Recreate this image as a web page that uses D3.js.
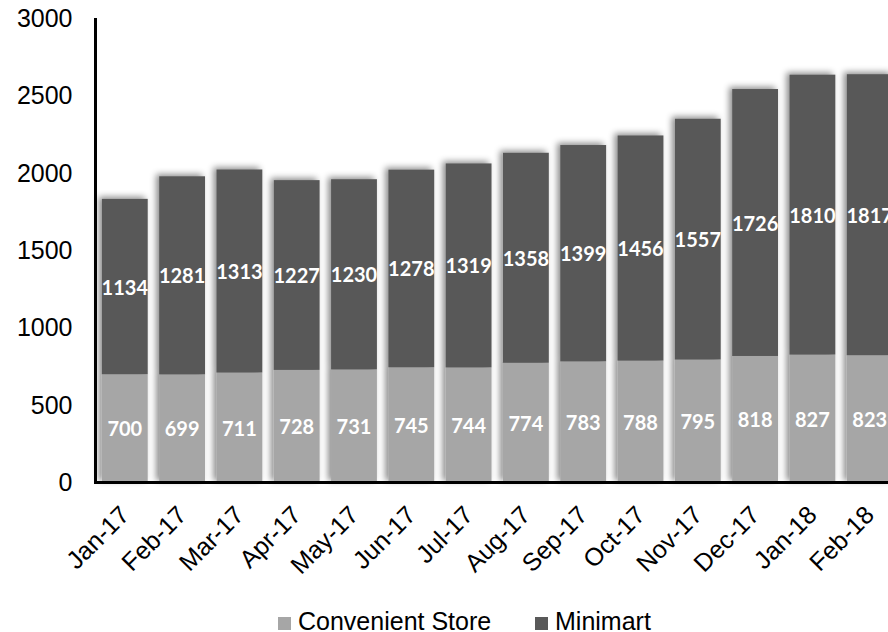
<!DOCTYPE html>
<html>
<head>
<meta charset="utf-8">
<script src="https://cdn.jsdelivr.net/npm/d3@7"></script>
<style>
  html, body { margin: 0; padding: 0; background: #fff; }
  svg { display: block; }
</style>
</head>
<body>
<svg id="chart" width="888" height="632"></svg>
<script>
// Monthly outlet counts by store type
const months = ["Jan-17","Feb-17","Mar-17","Apr-17","May-17","Jun-17","Jul-17",
                "Aug-17","Sep-17","Oct-17","Nov-17","Dec-17","Jan-18","Feb-18"];
const convenient = [700, 699, 711, 728, 731, 745, 744, 774, 783, 788, 795, 818, 827, 823];
const minimart = [1134, 1281, 1313, 1227, 1230, 1278, 1319, 1358, 1399, 1456, 1557, 1726, 1810, 1817];
const yTicks = [0, 500, 1000, 1500, 2000, 2500, 3000];
const seriesNames = ["Convenient Store", "Minimart"];
const seriesColors = ["#a6a6a6", "#595959"];

const svg = d3.select("#chart");
const axisFont = "'Liberation Sans', Arial, sans-serif";
const labelFont = "Lato, 'Noto Sans', sans-serif";

const rows = months.map((m, i) => ({ month: m, convenient: convenient[i], minimart: minimart[i] }));
const stack = d3.stack().keys(["convenient", "minimart"])(rows);

const x = d3.scaleBand()
  .domain(months)
  .range([95, 899.5])
  .paddingInner(0.2)
  .paddingOuter(0.12);

const y = d3.scaleLinear()
  .domain([0, 3000])
  .range([482.5, 18.5]);

const color = d3.scaleOrdinal().domain(["convenient", "minimart"]).range(seriesColors);

// soft shadow behind the bars
const defs = svg.append("defs");
const f = defs.append("filter").attr("id", "barShadow")
  .attr("x", "-30%").attr("y", "-10%").attr("width", "160%").attr("height", "120%");
f.append("feDropShadow")
  .attr("dx", -3).attr("dy", -2)
  .attr("stdDeviation", 3)
  .attr("flood-color", "#000")
  .attr("flood-opacity", 0.45);

const barsG = svg.append("g").attr("filter", "url(#barShadow)");
barsG.selectAll("g.series")
  .data(stack)
  .join("g")
  .attr("class", "series")
  .attr("fill", d => color(d.key))
  .selectAll("rect")
  .data(d => d)
  .join("rect")
  .attr("x", d => x(d.data.month))
  .attr("width", x.bandwidth())
  .attr("y", d => y(d[1]))
  .attr("height", d => y(d[0]) - y(d[1]));

// value labels centred in each segment
const labelsG = svg.append("g");
stack.forEach(s => {
  labelsG.selectAll(null)
    .data(s)
    .join("text")
    .attr("x", d => x(d.data.month) + x.bandwidth() / 2)
    .attr("y", d => (y(d[0]) + y(d[1])) / 2)
    .attr("text-anchor", "middle")
    .attr("dominant-baseline", "central")
    .attr("fill", "#ffffff")
    .attr("font-family", labelFont)
    .attr("font-weight", 700)
    .attr("font-size", 20)
    .text(d => d.data[s.key]);
});

// axes
const yAxis = d3.axisLeft(y).tickValues(yTicks).tickFormat(d3.format("d")).tickSize(0).tickPadding(23);
const yG = svg.append("g").attr("transform", "translate(95.5,0)").call(yAxis);
yG.select(".domain").attr("stroke", "#000").attr("stroke-width", 3)
  .attr("d", `M0,${y(3000) - 0.5}V${y(0) + 1.5}`);
yG.selectAll("text")
  .attr("font-family", axisFont)
  .attr("font-size", 25)
  .attr("fill", "#000");

const xAxis = d3.axisBottom(x).tickSize(0).tickPadding(0);
const xG = svg.append("g").attr("transform", `translate(0,${y(0)})`).call(xAxis);
xG.select(".domain").attr("stroke", "#000").attr("stroke-width", 3)
  .attr("d", "M94,0H900");
xG.selectAll(".tick text")
  .attr("font-family", axisFont)
  .attr("font-size", 25)
  .attr("fill", "#000")
  .attr("text-anchor", "end")
  .attr("dy", null)
  .attr("y", null)
  .attr("transform", "translate(6,34) rotate(-45)");

// legend
const legend = svg.append("g");
const legendItems = [
  { name: seriesNames[0], color: seriesColors[0], x: 278 },
  { name: seriesNames[1], color: seriesColors[1], x: 535 }
];
legendItems.forEach(it => {
  legend.append("rect")
    .attr("x", it.x).attr("y", 617)
    .attr("width", 13).attr("height", 13)
    .attr("fill", it.color);
  legend.append("text")
    .attr("x", it.x + 20).attr("y", 630)
    .attr("font-family", axisFont)
    .attr("font-size", 25)
    .attr("fill", "#000")
    .text(it.name);
});
</script>
</body>
</html>
